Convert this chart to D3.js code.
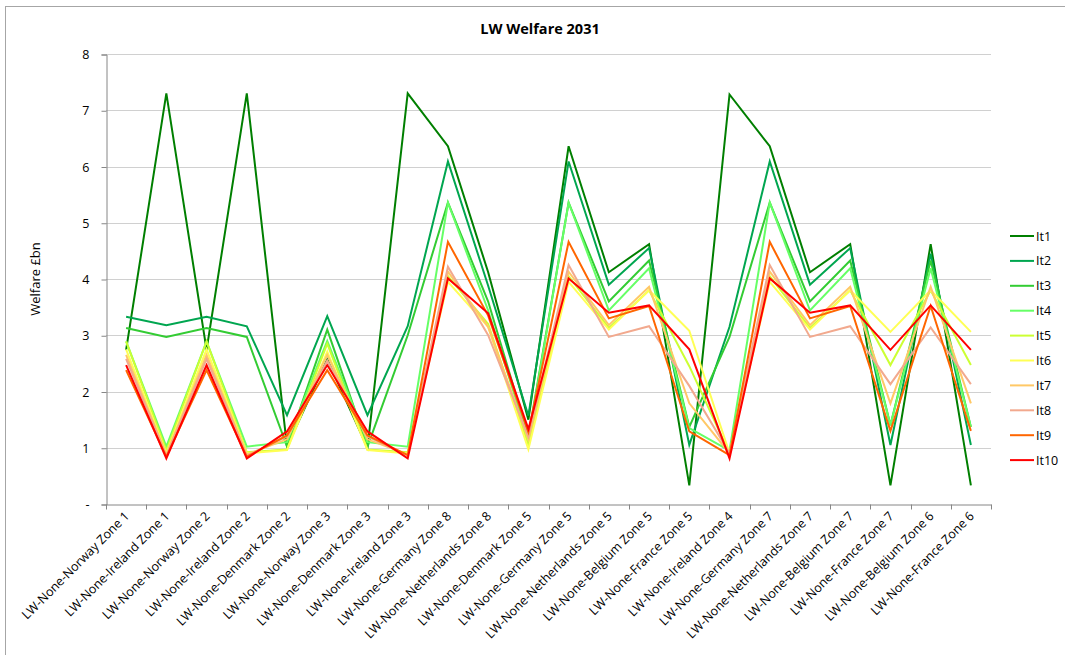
<!DOCTYPE html>
<html><head><meta charset="utf-8">
<script src="https://cdn.jsdelivr.net/npm/d3@7"></script>
<style>
html,body{margin:0;padding:0;background:#fff;}
text{font-family:"Open Sans","Noto Sans",sans-serif;}
</style></head>
<body>
<svg id="c" width="1065" height="655"></svg>
<script>
const categories = [
"LW-None-Norway Zone 1","LW-None-Ireland Zone 1","LW-None-Norway Zone 2","LW-None-Ireland Zone 2",
"LW-None-Denmark Zone 2","LW-None-Norway Zone 3","LW-None-Denmark Zone 3","LW-None-Ireland Zone 3",
"LW-None-Germany Zone 8","LW-None-Netherlands Zone 8","LW-None-Denmark Zone 5","LW-None-Germany Zone 5",
"LW-None-Netherlands Zone 5","LW-None-Belgium Zone 5","LW-None-France Zone 5","LW-None-Ireland Zone 4",
"LW-None-Germany Zone 7","LW-None-Netherlands Zone 7","LW-None-Belgium Zone 7","LW-None-France Zone 7",
"LW-None-Belgium Zone 6","LW-None-France Zone 6"];

const seriesNames = ["It1","It2","It3","It4","It5","It6","It7","It8","It9","It10"];
const seriesColors = ["#007f00","#00a650","#33cc33","#66ff66","#ccff33","#ffff55","#ffc866","#f2a98e","#ff6600","#ff0000"];

const it1  = [2.74,7.30,2.74,7.30,1.02,2.57,1.00,7.30,6.36,4.12,1.50,6.36,4.12,4.62,0.33,7.28,6.36,4.12,4.62,0.33,4.62,0.33];
const it2  = [3.33,3.18,3.33,3.16,1.58,3.34,1.58,3.16,6.09,3.88,1.57,6.09,3.90,4.55,1.05,3.15,6.09,3.90,4.55,1.05,4.45,1.05];
const it3  = [3.13,2.97,3.13,2.97,1.02,3.10,1.02,3.00,5.36,3.60,1.20,5.36,3.60,4.33,1.37,2.97,5.36,3.60,4.33,1.40,4.33,1.37];
const it4  = [2.89,1.02,2.89,1.02,1.10,2.90,1.10,1.02,5.36,3.44,1.15,5.36,3.44,4.19,1.35,0.95,5.36,3.44,4.19,1.40,4.19,1.37];
const it5  = [2.89,0.95,2.89,0.92,0.97,2.85,0.97,0.92,4.05,3.20,1.05,4.05,3.13,3.80,2.45,0.90,4.05,3.13,3.80,2.47,3.80,2.47];
const it6  = [2.75,0.90,2.75,0.90,0.96,2.71,0.96,0.90,3.95,3.15,0.97,3.95,3.10,3.80,3.08,0.90,3.95,3.10,3.80,3.06,3.80,3.06];
const it7  = [2.65,0.88,2.65,0.88,1.15,2.65,1.15,0.88,4.13,3.15,1.15,4.13,3.18,3.86,1.79,0.90,4.13,3.18,3.86,1.79,3.86,1.79];
const it8  = [2.58,0.86,2.58,0.86,1.20,2.55,1.20,0.86,4.22,3.00,1.20,4.25,2.97,3.16,2.10,0.90,4.25,2.97,3.16,2.13,3.14,2.13];
const it9  = [2.38,0.84,2.38,0.84,1.22,2.38,1.22,0.87,4.66,3.35,1.28,4.66,3.30,3.52,1.29,0.87,4.66,3.30,3.52,1.30,3.52,1.30];
const it10 = [2.47,0.81,2.47,0.81,1.29,2.47,1.29,0.81,4.01,3.39,1.33,4.01,3.40,3.53,2.75,0.81,4.01,3.40,3.53,2.74,3.53,2.74];
const seriesValues = [it1,it2,it3,it4,it5,it6,it7,it8,it9,it10];

const yTicks = [0,1,2,3,4,5,6,7,8];
const yTickLabels = ["-","1","2","3","4","5","6","7","8"];

const svg = d3.select("#c");
svg.append("rect").attr("x",5.5).attr("y",6.5).attr("width",1080).attr("height",670)
  .attr("fill","#fff").attr("stroke","#a6a6a6").attr("stroke-width",1);

const pLeft = 106, pRight = 991, pTop = 54, pBottom = 504;
const x = d3.scaleBand().domain(categories).range([pLeft,pRight]).paddingInner(0).paddingOuter(0);
const y = d3.scaleLinear().domain([0,8]).range([pBottom,pTop]);

svg.append("g").selectAll("line").data(yTicks.filter(d=>d>0)).join("line")
  .attr("x1",pLeft).attr("x2",pRight)
  .attr("y1",d=>Math.round(y(d))+0.5).attr("y2",d=>Math.round(y(d))+0.5)
  .attr("stroke","#d0d0d0").attr("stroke-width",1.2);

const yAxis = d3.axisLeft(y).tickValues(yTicks).tickFormat((d,i)=>yTickLabels[i]).tickSize(5).tickPadding(12);
const gy = svg.append("g").attr("transform",`translate(${pLeft+0.5},0.5)`).call(yAxis);
gy.select(".domain").attr("stroke","#868686");
gy.selectAll(".tick line").attr("stroke","#868686");
gy.selectAll(".tick text").attr("font-size",12.5).attr("fill","#000").attr("font-family","Open Sans");

const xAxis = d3.axisBottom(x).tickSize(0).tickFormat("");
const gx = svg.append("g").attr("transform",`translate(0,${pBottom+0.5})`).call(xAxis);
gx.select(".domain").attr("stroke","#868686");
const boundaries = categories.map(c=>x(c)).concat([pRight]);
gx.append("g").selectAll("line").data(boundaries).join("line")
  .attr("x1",d=>Math.round(d)+0.5).attr("x2",d=>Math.round(d)+0.5).attr("y1",0).attr("y2",5)
  .attr("stroke","#868686");

svg.append("g").selectAll("text").data(categories).join("text")
  .attr("transform",d=>`translate(${x(d)+x.bandwidth()/2+4},${pBottom+13}) rotate(-45)`)
  .attr("text-anchor","end").attr("font-size",12.5).attr("fill","#000")
  .text(d=>d);

const line = d3.line().x((d,i)=>x(categories[i])+x.bandwidth()/2).y(d=>y(d));
svg.append("g").selectAll("path").data(seriesValues).join("path")
  .attr("d",d=>line(d)).attr("fill","none")
  .attr("stroke",(d,i)=>seriesColors[i]).attr("stroke-width",2)
  .attr("stroke-linejoin","miter");

svg.append("text").attr("x",540).attr("y",34).attr("text-anchor","middle")
  .attr("font-size",14.5).attr("font-weight","bold").text("LW Welfare 2031");

svg.append("text").attr("transform",`translate(40,279) rotate(-90)`)
  .attr("text-anchor","middle").attr("font-size",13).text("Welfare £bn");

const lg = svg.append("g").selectAll("g").data(seriesNames).join("g")
  .attr("transform",(d,i)=>`translate(1010,${236+i*24.9})`);
lg.append("line").attr("x1",0).attr("x2",24).attr("y1",0).attr("y2",0)
  .attr("stroke",(d,i)=>seriesColors[i]).attr("stroke-width",2);
lg.append("text").attr("x",26).attr("y",4.5).attr("font-size",12.5).text(d=>d);
</script>
</body></html>
